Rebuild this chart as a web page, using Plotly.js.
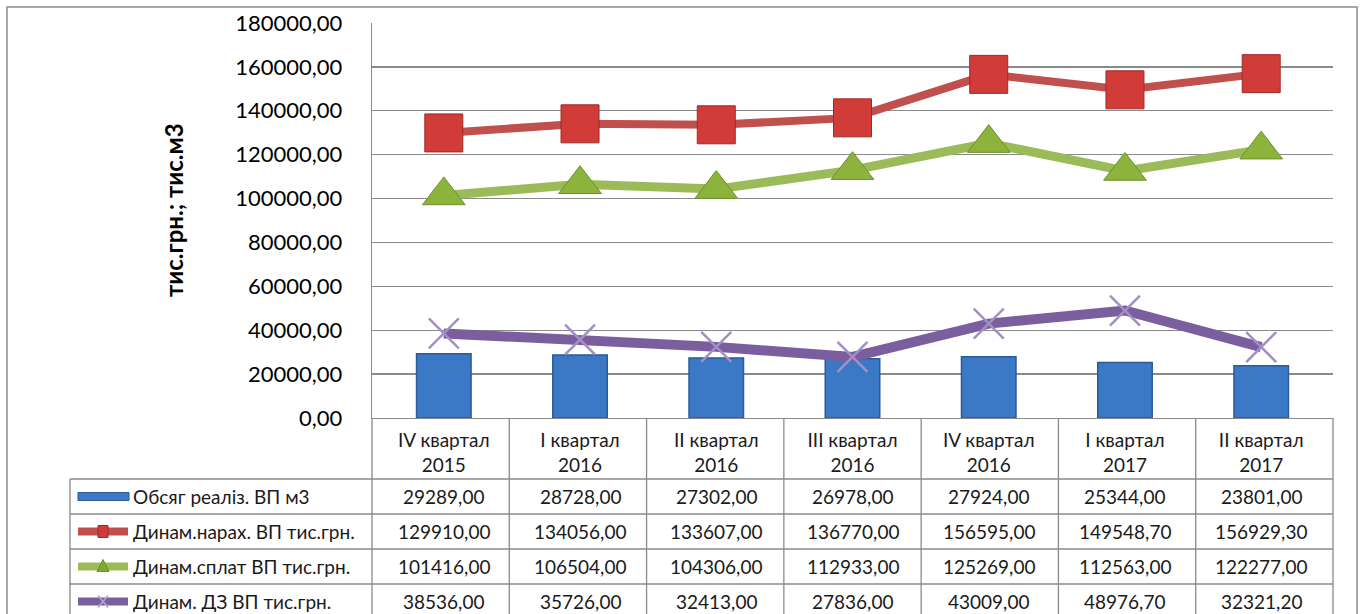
<!DOCTYPE html>
<html><head><meta charset="utf-8">
<script src="https://cdn.plot.ly/plotly-3.0.1.min.js"></script>
<style>html,body{margin:0;padding:0;background:#fff}#chart{width:1362px;height:614px}</style>
</head><body><div id="chart"></div>
<script>
const categories = ['IV квартал<br>2015','I квартал<br>2016','II квартал<br>2016','III квартал<br>2016','IV квартал<br>2016','I квартал<br>2017','II квартал<br>2017'];
const volume = [29289.00, 28728.00, 27302.00, 26978.00, 27924.00, 25344.00, 23801.00];
const accrued = [129910.00, 134056.00, 133607.00, 136770.00, 156595.00, 149548.70, 156929.30];
const paid = [101416.00, 106504.00, 104306.00, 112933.00, 125269.00, 112563.00, 122277.00];
const receivables = [38536.00, 35726.00, 32413.00, 27836.00, 43009.00, 48976.70, 32321.20];
const seriesNames = ['Обсяг реаліз. ВП м3', 'Динам.нарах. ВП тис.грн.', 'Динам.сплат ВП тис.грн.', 'Динам. ДЗ ВП тис.грн.'];
const yTitle = 'тис.грн.; тис.м3';
const yTickVals = [0, 20000, 40000, 60000, 80000, 100000, 120000, 140000, 160000, 180000];

const W = 1362, H = 614, L = 372, R = 1333, T = 23, B = 418;
const px = v => (v - L) / (R - L);
const py = v => (B - v) / (B - T);
const fmt = v => v.toFixed(2).replace('.', ',');
const FONT = 'Lato, "Open Sans", sans-serif';
const GRID = '#8a8a8a';

const traces = [
  {type:'bar', x:categories, y:volume, name:seriesNames[0], width:0.4,
   marker:{color:'#3B79C6', line:{color:'#2A5A97', width:1.5}}},
  {type:'scatter', mode:'lines+markers', x:categories, y:accrued, name:seriesNames[1],
   line:{color:'#C0504D', width:8},
   marker:{symbol:'square', size:38, color:'#D13C38', line:{color:'#9E2A27', width:1}}},
  {type:'scatter', mode:'lines+markers', x:categories, y:paid, name:seriesNames[2],
   line:{color:'#9BBB59', width:9},
   marker:{symbol:'triangle-up', size:37, color:'#8CB43C', line:{color:'#6E8F2E', width:1}}},
  {type:'scatter', mode:'lines+markers', x:categories, y:receivables, name:seriesNames[3],
   line:{color:'#7B5E9E', width:10},
   marker:{symbol:'x-thin', size:30, color:'#A38FC6', line:{color:'#A38FC6', width:2.5}}}
];

const shapes = [];
const annotations = [];
const line = (x0,y0,x1,y1,color,w) => shapes.push({type:'line', xref:'paper', yref:'paper',
  x0:px(x0), y0:py(y0), x1:px(x1), y1:py(y1), line:{color:color, width:w}, layer:'above'});

// outer border
shapes.push({type:'rect', xref:'paper', yref:'paper', x0:px(7), y0:py(7), x1:px(1357), y1:py(640),
  line:{color:'#8c8c8c', width:1.5}, fillcolor:'rgba(0,0,0,0)', layer:'below'});

// table grid
const rowTops = [479, 514, 549, 584, 619];
const colW = (R - L) / categories.length;
for (let k = 0; k <= categories.length; k++) {
  const x = L + k * colW;
  line(x, B, x, 640, GRID, 1.3);
}
line(70, rowTops[0], 70, 640, GRID, 1.3);
rowTops.forEach(y => line(70, y, R, y, GRID, 1.3));

// cell values
const rows = [volume, accrued, paid, receivables];
rows.forEach((arr, r) => {
  const yc = rowTops[r] + 17.5;
  arr.forEach((v, i) => annotations.push({xref:'x', yref:'paper', x:categories[i], y:py(yc),
    text:fmt(v), showarrow:false, xanchor:'center', yanchor:'middle',
    font:{family:FONT, size:19, color:'#1a1a1a'}}));
  annotations.push({xref:'paper', yref:'paper', x:px(131), y:py(yc), text:seriesNames[r],
    showarrow:false, xanchor:'left', yanchor:'middle', font:{family:FONT, size:19, color:'#1a1a1a'}});
});

// legend icons
const ic = r => rowTops[r] + 17.5;
shapes.push({type:'rect', xref:'paper', yref:'paper', x0:px(78), x1:px(129), y0:py(ic(0)-4), y1:py(ic(0)+4),
  fillcolor:'#3B79C6', line:{color:'#2A5A97', width:1}});
[['#C0504D',1],['#9BBB59',2],['#7B5E9E',3]].forEach(([c,r]) => line(78, ic(r), 128, ic(r), c, 8));
shapes.push({type:'rect', xref:'paper', yref:'paper', x0:px(98), x1:px(108), y0:py(ic(1)-6), y1:py(ic(1)+6),
  fillcolor:'#D13C38', line:{color:'#9E2A27', width:1}});
shapes.push({type:'path', xref:'paper', yref:'paper',
  path:`M${px(97)},${py(ic(2)+5)} L${px(109)},${py(ic(2)+5)} L${px(103)},${py(ic(2)-7)} Z`,
  fillcolor:'#7FA832', line:{color:'#6E8F2E', width:1}});
line(98, ic(3)-6, 108, ic(3)+6, '#B5A3D3', 1.5);
line(98, ic(3)+6, 108, ic(3)-6, '#B5A3D3', 1.5);

// y title
annotations.push({xref:'paper', yref:'paper', x:px(173), y:py(210), text:'<b>'+yTitle+'</b>',
  textangle:-90, showarrow:false, xanchor:'center', yanchor:'middle',
  font:{family:FONT, size:24, color:'#000'}});

const layout = {
  width:W, height:H, paper_bgcolor:'#fff', plot_bgcolor:'#fff',
  margin:{l:L, r:W-R, t:T, b:H-B, pad:0},
  showlegend:false, separators:', ',
  xaxis:{type:'category', showgrid:false, zeroline:false, showline:true, linecolor:GRID, linewidth:1.3,
    ticks:'', tickfont:{family:FONT, size:19, color:'#1a1a1a'}, ticklabelstandoff:5, fixedrange:true},
  yaxis:{range:[0,180000], tickvals:yTickVals, tickformat:'.2f', showgrid:true, gridcolor:GRID, gridwidth:1.3,
    zeroline:false, showline:true, linecolor:GRID, linewidth:1.3, ticks:'', ticklabelstandoff:24,
    tickfont:{family:FONT, size:22, color:'#000'}, fixedrange:true},
  shapes:shapes, annotations:annotations, bargap:0.6
};
Plotly.newPlot('chart', traces, layout, {staticPlot:true, displayModeBar:false});
</script></body></html>
